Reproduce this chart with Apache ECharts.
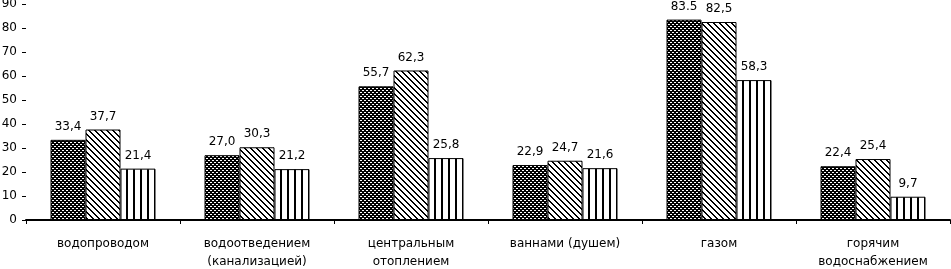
<!DOCTYPE html>
<html>
<head>
<meta charset="utf-8">
<script src="https://cdn.jsdelivr.net/npm/echarts@6/dist/echarts.min.js"></script>
<style>html,body{margin:0;padding:0;background:#fff}#c{width:951px;height:269px}</style>
</head>
<body>
<div id="c"></div>
<script>
const categories = ['водопроводом', 'водоотведением\n(канализацией)', 'центральным\nотоплением', 'ваннами (душем)', 'газом', 'горячим\nводоснабжением'];
const series1 = [33.4, 27.0, 55.7, 22.9, 83.5, 22.4];
const series2 = [37.7, 30.3, 62.3, 24.7, 82.5, 25.4];
const series3 = [21.4, 21.2, 25.8, 21.6, 58.3, 9.7];
// label text as printed in the source (one label uses a point instead of a comma)
const labelOverrides = { '0-4': '83.5' };
const yTicks = { min: 0, max: 90, interval: 10 };

function makePattern(type) {
  const c = document.createElement('canvas');
  const ctx = c.getContext('2d');
  if (type === 'checker') {
    c.width = 4; c.height = 4;
    ctx.fillStyle = '#000'; ctx.fillRect(0, 0, 4, 4);
    ctx.fillStyle = '#fff';
    ctx.fillRect(0, 0, 2, 1);
    ctx.fillRect(2, 2, 2, 1);
  } else if (type === 'diag') {
    c.width = 6; c.height = 6;
    ctx.fillStyle = '#fff'; ctx.fillRect(0, 0, 6, 6);
    ctx.fillStyle = '#000';
    for (let i = 0; i < 6; i++) {
      for (let k = 0; k < 2; k++) {
        ctx.fillRect((i + k) % 6, i, 1, 1);
      }
    }
  } else {
    c.width = 7; c.height = 4;
    ctx.fillStyle = '#fff'; ctx.fillRect(0, 0, 7, 4);
    ctx.fillStyle = '#000'; ctx.fillRect(0, 0, 2, 4);
  }
  return { image: c, repeat: 'repeat' };
}

function fmt(si) {
  return function (p) {
    const key = si + '-' + p.dataIndex;
    if (labelOverrides[key]) return labelOverrides[key];
    return p.value.toFixed(1).replace('.', ',');
  };
}

const FONT = 'DejaVu Sans, sans-serif';
const patterns = [makePattern('checker'), makePattern('diag'), makePattern('stripe')];
const data = [series1, series2, series3];

const chart = echarts.init(document.getElementById('c'), null, { renderer: 'canvas' });
chart.setOption({
  animation: false,
  backgroundColor: '#fff',
  grid: { left: 26, right: 1, top: 4, bottom: 49, containLabel: false, outerBoundsMode: 'none' },
  xAxis: {
    type: 'category',
    data: categories,
    axisLine: { lineStyle: { color: '#000', width: 2 } },
    axisTick: { show: true, length: 4, lineStyle: { color: '#000' } },
    axisLabel: { color: '#000', fontFamily: FONT, fontSize: 12, margin: 15, lineHeight: 18, interval: 0 }
  },
  yAxis: {
    type: 'value',
    min: yTicks.min, max: yTicks.max, interval: yTicks.interval,
    axisLine: { show: false },
    axisTick: { show: true, length: 4, lineStyle: { color: '#000' } },
    splitLine: { show: false },
    axisLabel: { color: '#000', fontFamily: FONT, fontSize: 12, margin: 9 }
  },
  series: data.map((d, i) => ({
    type: 'bar',
    data: d,
    barWidth: 35,
    barGap: '0%',
    itemStyle: { color: patterns[i], borderColor: '#000', borderWidth: 1 },
    label: { show: true, position: 'top', distance: 7, color: '#000', fontFamily: FONT, fontSize: 12, formatter: fmt(i) }
  }))
});
</script>
</body>
</html>
